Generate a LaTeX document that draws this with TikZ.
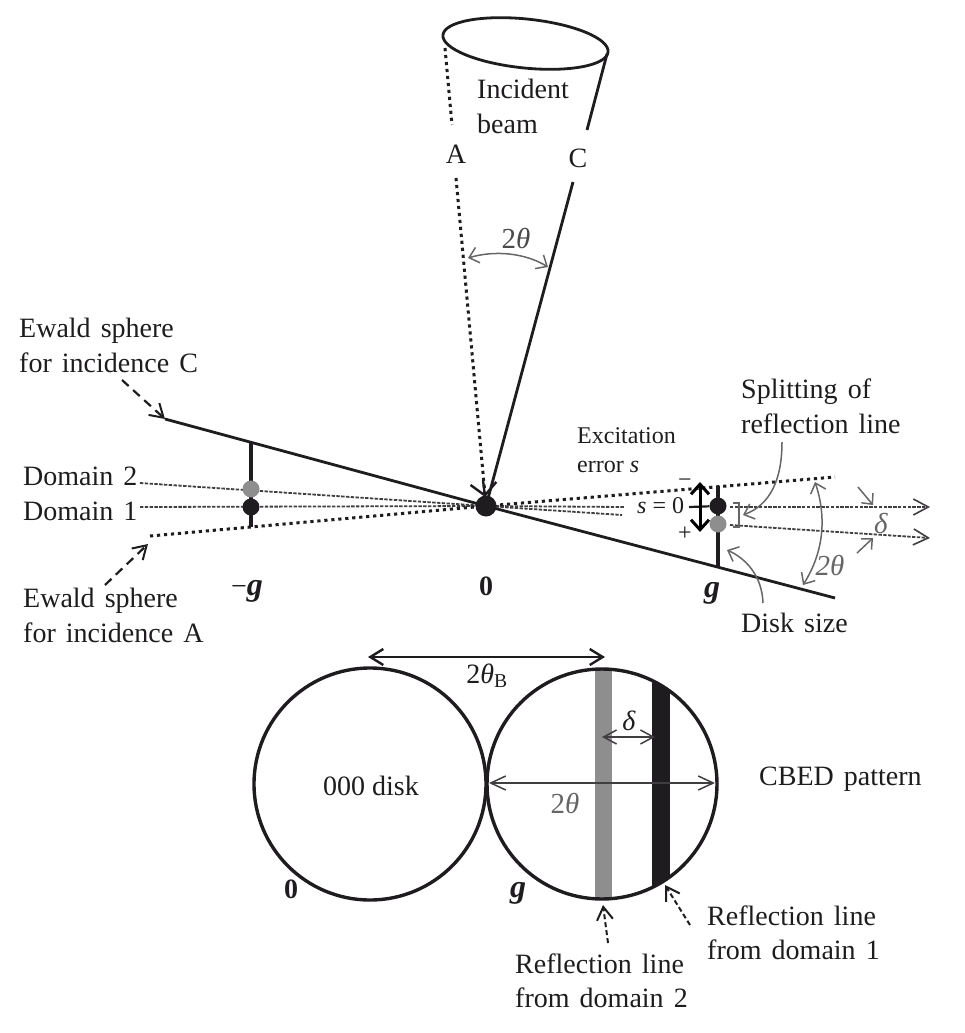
\documentclass[tikz,border=0pt]{standalone}
\usepackage{fontspec}
\setmainfont{Liberation Serif}
\usetikzlibrary{arrows.meta,calc}
\definecolor{ink}{HTML}{1E1C1E}
\definecolor{midgray}{HTML}{8E8E8E}
\definecolor{gline}{HTML}{666666}
\newcommand{\thetaI}{\textit{θ}}
\newcommand{\deltaI}{\textit{δ}}
\newcommand{\gB}{{\fontsize{32}{32}\selectfont\textbf{\textit{g}}}}
\newcommand{\labfont}{\fontsize{28}{28}\selectfont\setlength{\spaceskip}{.36em}}
\tikzset{
  lab/.style={inner sep=0pt,anchor=base west,font=\labfont,text=ink},
  cen/.style={inner sep=0pt,anchor=base,font=\fontsize{28}{28}\selectfont,text=ink},
  smalltxt/.style={inner sep=0pt,anchor=base west,font=\fontsize{24}{24}\selectfont,text=ink},
  glabel/.style={inner sep=0pt,anchor=base,font=\fontsize{29}{29}\selectfont,text=gline},
  ewald/.style={line width=2.8pt,draw=ink},
  ewalddot/.style={line width=3pt,draw=ink,dash pattern=on 3.2pt off 3.8pt},
  domline/.style={line width=1.8pt,draw=ink!85,dash pattern=on 3.4pt off 1.4pt},
  diskseg/.style={line width=4pt,draw=ink},
  gcurve/.style={line width=1.5pt,draw=gline,-{Straight Barb[length=9pt,width=16pt,line width=1.5pt]}},
  gdouble/.style={line width=1.5pt,draw=gline,{Straight Barb[length=9pt,width=16pt,line width=1.5pt]}-{Straight Barb[length=9pt,width=16pt,line width=1.5pt]}},
  bdouble/.style={line width=2.4pt,draw=ink,{Straight Barb[length=13pt,width=16pt,line width=2.4pt]}-{Straight Barb[length=13pt,width=16pt,line width=2.4pt]}},
  bolddouble/.style={line width=3pt,draw=black,{Straight Barb[length=10pt,width=18pt,line width=3pt]}-{Straight Barb[length=10pt,width=18pt,line width=3pt]}},
  dasharrow/.style={line width=2.2pt,draw=ink,dash pattern=on 9pt off 6pt,-{Straight Barb[length=13pt,width=16pt,line width=2pt]}},
  dashsmall/.style={line width=2pt,draw=ink,dash pattern=on 5pt off 3pt,-{Straight Barb[length=13pt,width=16pt,line width=2pt]}},
  ring/.style={line width=3.4pt,draw=ink},
  spot/.style={circle,inner sep=0pt,minimum size=17pt},
  dashhead/.style={-{Straight Barb[length=15pt,width=16pt,line width=1.6pt]}},
  fineline/.style={line width=1.5pt,draw=ink!85},
}
\begin{document}
\begin{tikzpicture}[x=1pt,y=-1pt]
\useasboundingbox (0,0) rectangle (964,1033);
% key points
\coordinate (O) at (486,506);
\coordinate (cA) at (150,536);
\coordinate (cC) at (165,419);
\coordinate (eA) at (835,477);
\coordinate (eC) at (835,598);
\coordinate (d2s) at (140,483);
\coordinate (d2e) at (930,538);
\coordinate (d1s) at (140,507);
\coordinate (d1e) at (930,507);
\coordinate (mgT) at (251,443);
\coordinate (mgB) at (251,527);
\coordinate (gT) at (718,486);
\coordinate (gB) at (718,567);
% reflection lines
\draw[domline] (d1s) -- (O);
\draw[domline] (d2s) -- (O);
\draw[domline] (O) -- (624,507);
\draw[domline] (O) -- (622,515);
\draw[domline,dashhead] (730,507) -- (d1e);
\draw[domline,dashhead] (730,525) -- (d2e);
% Ewald lines
\draw[ewalddot] (cA) -- (O);
\draw[ewalddot] (O) -- (eA);
\draw[ewald] (cC) -- (O) -- (eC);
% disk segments
\draw[diskseg] (mgT) -- (mgB);
\draw[diskseg] (gT) -- (gB);
\node[spot,fill=midgray] (mg2) at (251,489) {};
\node[spot,fill=ink] (mg1) at (251,507) {};
\node[spot,fill=ink] (g1) at (718,506) {};
\node[spot,fill=midgray] (g2) at (718,524) {};
\node[circle,fill=ink,inner sep=0pt,minimum size=21pt] (Odot) at (O) {};
% incident beam
\draw[line width=2.8pt,draw=ink] (525.5,43.5) circle[x radius=83pt,y radius=24.5pt,rotate=-5.9];
\coordinate (A1) at (445,48);
\coordinate (A2) at (452,125);
\coordinate (A3) at (456,178);
\coordinate (C1) at (607,54);
\coordinate (C2) at (587,130);
\coordinate (C3) at (573,182);
\draw[ewalddot] (A1) -- (A2);
\draw[ewald] (C1) -- (C2);
\draw[ewalddot] (A3) -- (O);
\draw[ewald] (C3) -- (O);
\draw[line width=2.4pt,draw=ink,{Straight Barb[length=12pt,width=26pt,line width=2.4pt]}-] (485,497) -- (483,480);
\node[cen] (labA) at (456,163) {A};
\node[cen] (labC) at (578,167) {C};
\node[lab] (inc1) at (477,98) {Incident};
\node[lab] (inc2) at (477,133) {beam};
\coordinate (arcA) at (468,258);
\coordinate (arcC) at (548,267);
\draw[gdouble] (arcA) .. controls (495,250) and (525,253) .. (arcC);
\node[glabel,text=ink!80] (th1) at (516,248) {2\thetaI};
% left labels
\node[lab] (ec1) at (19,337) {Ewald sphere};
\node[lab] (ec2) at (19,372) {for incidence C};
\coordinate (ecT) at (122,380);
\draw[dasharrow] (ecT) -- (cC);
\node[lab] (d2) at (23,485) {Domain 2};
\node[lab] (d1) at (23,520) {Domain 1};
\node[lab] (ea1) at (23,607) {Ewald sphere};
\node[lab] (ea2) at (23,642) {for incidence A};
\coordinate (eaT) at (105,585);
\draw[dasharrow] (eaT) -- (148,544);
\node[cen] (lmg) at (247,595) {−\gB};
\node[cen] (l0) at (486,595) {\textbf{0}};
\node[cen] (lg) at (712,597) {\gB};
% right details
\node[smalltxt] (ex1) at (577,443) {Excitation};
\node[smalltxt] (ex2) at (577,472) {error \textit{s}};
\node[smalltxt] (s0) at (637,513) {\textit{s} = 0};
\draw[line width=2.2pt,draw=ink] (689,507) -- (g1);
\draw[bolddouble] (700,482) -- (700,532);
\node[smalltxt] (minus) at (678,487) {−};
\node[smalltxt] (plus) at (678,540) {+};
\draw[line width=1.3pt,draw=gline] (733,503) -- (739,503) -- (739,527) -- (733,527);
\node[lab] (sp1) at (741,398) {Splitting of};
\node[lab] (sp2) at (741,433) {reflection line};
\coordinate (spT) at (782,442);
\coordinate (spE) at (743,515);
\draw[gcurve] (spT) .. controls (782,480) and (770,505) .. (spE);
\node[lab] (ds) at (741,632) {Disk size};
\coordinate (dsT) at (763,603);
\coordinate (dsE) at (727,550);
\draw[gcurve] (dsT) .. controls (762,575) and (745,558) .. (dsE);
\coordinate (r1) at (815,482);
\coordinate (r2) at (803,585);
\draw[gdouble] (r1) .. controls (826,515) and (825,550) .. (r2);
\node[glabel] (th2) at (830,575) {\textit{2}\thetaI};
\coordinate (dlT) at (858,487);
\coordinate (dlB) at (857,553);
\draw[gcurve,-{Straight Barb[length=8pt,width=15pt,line width=1.5pt]}] (dlT) -- (873,505);
\draw[gcurve,-{Straight Barb[length=8pt,width=15pt,line width=1.5pt]}] (dlB) -- (873,538);
\node[glabel] (dl) at (881,533) {\deltaI};
% CBED circles
\draw[ring] (370,784) circle[radius=116pt];
\begin{scope}
\clip (602,784) circle[radius=115pt];
\fill[midgray] (595,660) rectangle (612,910);
\fill[ink] (652,660) rectangle (670,910);
\end{scope}
\draw[ring] (602,784) circle[radius=115pt];
\coordinate (bL) at (368,657);
\coordinate (bR) at (605,657);
\draw[bdouble] (bL) -- (bR);
\node[cen] (thb) at (487,683) {2\thetaI\textsubscript{B}};
\coordinate (dL) at (602,737);
\coordinate (dR) at (655,737);
\draw[fineline,{Straight Barb[length=13pt,width=14pt,line width=1.5pt]}-{Straight Barb[length=13pt,width=14pt,line width=1.5pt]}] (dL) -- (dR);
\node[cen] (dlc) at (629,730) {\deltaI};
\coordinate (wL) at (489,783);
\coordinate (wR) at (715,783);
\draw[fineline,{Straight Barb[length=15pt,width=14pt,line width=1.5pt]}-{Straight Barb[length=15pt,width=14pt,line width=1.5pt]}] (wL) -- (wR);
\node[glabel] (thw) at (565,813) {2\thetaI};
\node[cen] (d000) at (371,795) {000 disk};
\node[lab] (cb) at (759,785) {CBED pattern};
\node[cen] (c0) at (291,898) {\textbf{0}};
\node[cen] (cg) at (518,897) {\gB};
% reflection line callouts
\coordinate (r2T) at (608,943);
\coordinate (r2E) at (603,905);
\coordinate (r1T) at (690,925);
\coordinate (r1E) at (665,885);
\draw[dashsmall] (r2T) -- (r2E);
\draw[dashsmall] (r1T) -- (r1E);
\node[lab] (rl1a) at (707,925) {Reflection line};
\node[lab] (rl1b) at (707,959) {from domain 1};
\node[lab] (rl2a) at (515,973) {Reflection line};
\node[lab] (rl2b) at (515,1007) {from domain 2};
\end{tikzpicture}
\end{document}
